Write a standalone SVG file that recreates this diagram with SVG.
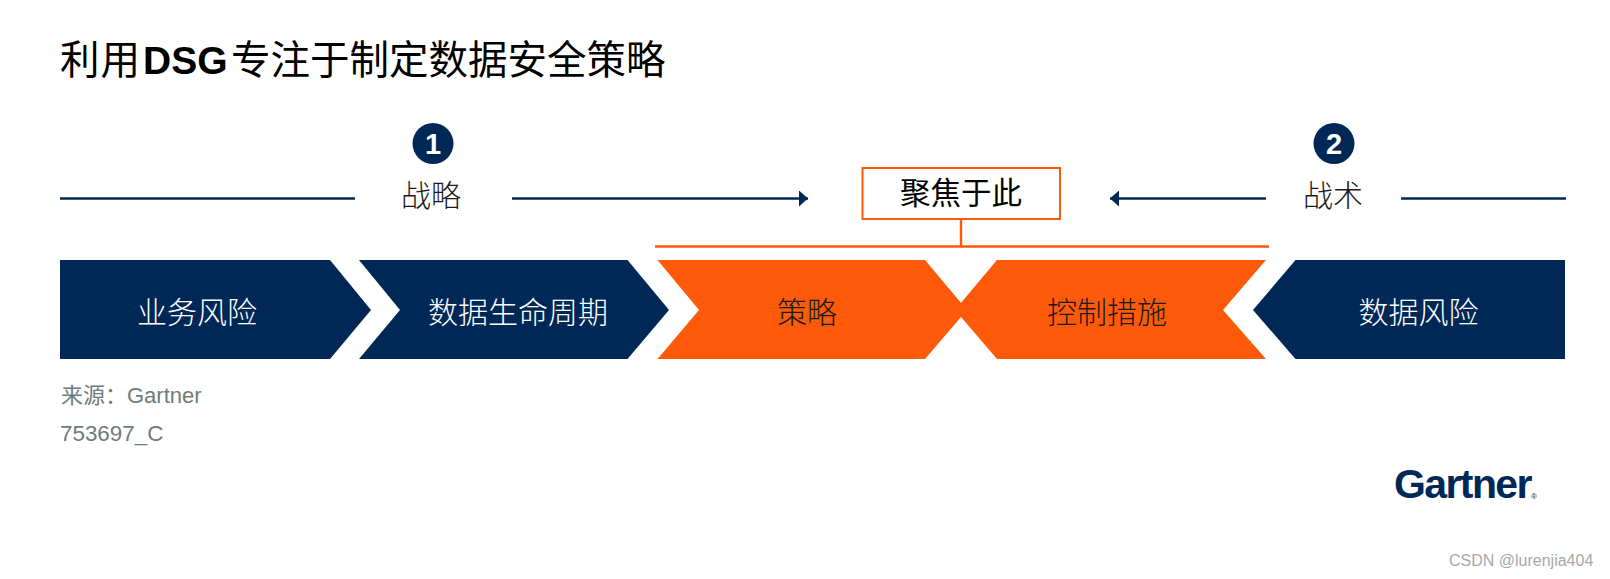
<svg xmlns="http://www.w3.org/2000/svg" width="1610" height="579" viewBox="0 0 1610 579">
<style>
text{font-family:"Liberation Sans","Noto Sans CJK SC",sans-serif}
.c{text-anchor:middle}
.lab{font-size:30px;fill:#fff;text-anchor:middle;font-weight:300}
.dk{fill:#1a1a1a}
.navy{fill:#002856}
.org{fill:#ff5a0a}
.line{stroke:#002856;stroke-width:2.400;fill:none}
.oline{stroke:#ff5a0a;stroke-width:2.400;fill:none}
.src{font-size:22px;fill:#6f7b7b}
.num{font-size:29px;font-weight:700;fill:#fff;text-anchor:middle}
</style>
<defs>
<marker id="arr" viewBox="0 0 9 16" refX="9" refY="8" markerWidth="9" markerHeight="16" markerUnits="userSpaceOnUse" orient="auto-start-reverse"><path d="M0 0L9 8L0 16Z" fill="#002856"/></marker>
</defs>
<rect width="1610" height="579" fill="#fff"/>
<text id="title" x="60" y="74" font-size="39.500" fill="#000"><tspan letter-spacing="1">利用</tspan><tspan x="143" font-size="39" font-weight="700">DSG</tspan><tspan x="231">专注于制定数据安全策略</tspan></text>
<g id="connectors">
<path class="line" d="M60 198.500H355"/>
<path class="line" d="M512 198.500H808" marker-end="url(#arr)"/>
<path class="line" d="M1266 198.500H1110" marker-end="url(#arr)"/>
<path class="line" d="M1401 198.500H1566"/>
<path class="oline" d="M961 219V246.500M655 246.500H1269"/>
</g>
<g id="step1"><circle class="navy" cx="433" cy="143.500" r="20.500"/><text class="num" x="433" y="153.500">1</text></g>
<g id="strategy"><text class="c dk" x="431" y="206" font-size="30" font-weight="300">战略</text></g>
<g id="focus"><rect x="862.500" y="168" width="197.500" height="51" fill="#fff" stroke="#ff5a0a" stroke-width="2"/><text class="c" x="961" y="204" font-size="30.500" fill="#000">聚焦于此</text></g>
<g id="step2"><circle class="navy" cx="1334" cy="143.500" r="20.500"/><text class="num" x="1334" y="153.500">2</text></g>
<g id="tactics"><text class="c dk" x="1333" y="206" font-size="30" font-weight="300">战术</text></g>
<g id="biz-risk"><path class="navy" d="M60 260H330L371 310L330 359H60Z"/><text class="lab" x="197" y="323">业务风险</text></g>
<g id="lifecycle"><path class="navy" d="M359 260H627.500L669 310L627.500 359H359L400 310Z"/><text class="lab" x="518" y="323">数据生命周期</text></g>
<g id="policy"><path class="org" d="M657.500 260H925L967 310L925 359H657.500L699 310Z"/><text class="lab" style="fill:#1a1a1a" x="807" y="323">策略</text></g>
<g id="controls"><path class="org" d="M997 260H1266L1223 310L1266 359H997L955 310Z"/><text class="lab" style="fill:#1a1a1a" x="1107" y="323">控制措施</text></g>
<g id="data-risk"><path class="navy" d="M1295.500 260H1565V359H1295.500L1253 310Z"/><text class="lab" x="1418.500" y="323">数据风险</text></g>
<g id="source"><text class="src" x="61" y="403">来源：Gartner</text><text class="src" x="60" y="440.500" style="font-size:22.400px">753697_C</text></g>
<g id="logo"><text x="1394" y="498" font-size="41" font-weight="700" fill="#002856" letter-spacing="-1.600">Gartner</text><text x="1531" y="499" font-size="8" fill="#002856">®</text></g>
<text id="watermark" x="1449" y="566" font-size="16" fill="#a8a8a8">CSDN @lurenjia404</text>
</svg>
